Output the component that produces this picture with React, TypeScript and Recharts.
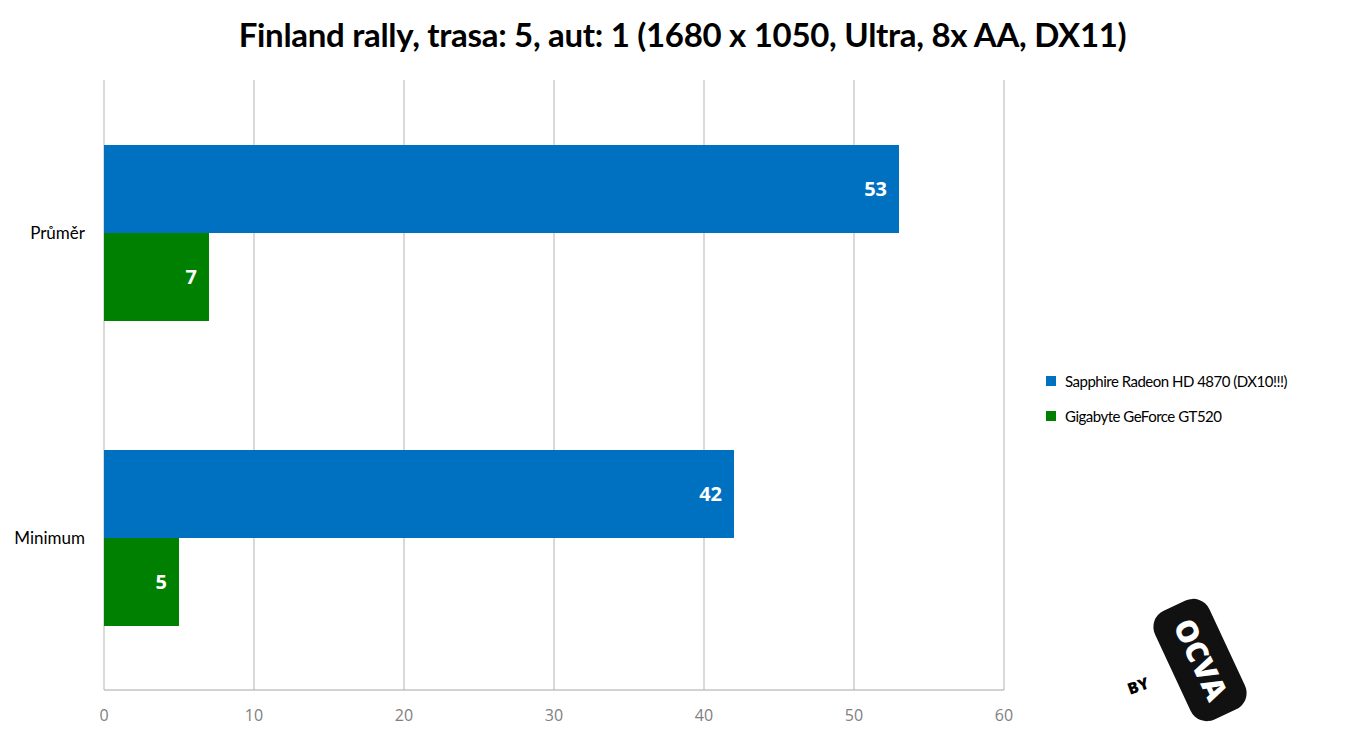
import React from 'react';
import { BarChart, Bar, XAxis, YAxis, CartesianGrid, LabelList } from 'recharts';

const categories = ['Průměr', 'Minimum'];
const radeonValues = [53, 42];
const geforceValues = [7, 5];
const xTicks = [0, 10, 20, 30, 40, 50, 60];
const seriesNames = ['Sapphire Radeon HD 4870 (DX10!!!)', 'Gigabyte GeForce GT520'];
const seriesColors = ['#0070C0', '#008000'];
const title = 'Finland rally, trasa: 5, aut: 1 (1680 x 1050, Ultra, 8x AA, DX11)';

const data = categories.map((c, i) => ({ name: c, radeon: radeonValues[i], geforce: geforceValues[i] }));

const FONT = 'Open Sans, Noto Sans, sans-serif';
const NARROW = 'Lato, Open Sans, sans-serif';

export default function App() {
  return (
    <div style={{ position: 'absolute', left: 0, top: 0, width: 1365, height: 736, background: '#fff', fontFamily: FONT }}>
      <div style={{ position: 'absolute', left: 0, top: 14, width: 1365, textAlign: 'center', fontSize: 33, fontWeight: 700, color: '#000', letterSpacing: -0.3, fontFamily: NARROW }}>
        {title}
      </div>
      <BarChart
        width={1365}
        height={736}
        data={data}
        layout="vertical"
        margin={{ top: 80, right: 361, bottom: 16, left: 0 }}
        barCategoryGap="21.3%"
        barGap={0}
      >
        <CartesianGrid horizontal={false} stroke="#b3b3b3" strokeWidth={1} />
        <XAxis
          type="number"
          domain={[0, 60]}
          ticks={xTicks}
          axisLine={{ stroke: '#a6a6a6' }}
          tickLine={false}
          tick={{ fill: '#808080', fontSize: 16, fontFamily: FONT }}
          tickMargin={14}
          height={30}
        />
        <YAxis
          type="category"
          dataKey="name"
          width={104}
          axisLine={false}
          tickLine={false}
          tick={{ fill: '#000', fontSize: 17, fontFamily: NARROW }}
          tickMargin={13}
        />
        <Bar dataKey="radeon" fill={seriesColors[0]} isAnimationActive={false}>
          <LabelList dataKey="radeon" position="insideRight" offset={12} fill="#fff" fontSize={20} fontWeight={700} fontFamily={FONT} />
        </Bar>
        <Bar dataKey="geforce" fill={seriesColors[1]} isAnimationActive={false}>
          <LabelList dataKey="geforce" position="insideRight" offset={12} fill="#fff" fontSize={20} fontWeight={700} fontFamily={FONT} />
        </Bar>
      </BarChart>
      <div style={{ position: 'absolute', left: 1046, top: 363, fontFamily: NARROW }}>
        {seriesNames.map((n, i) => (
          <div key={n} style={{ display: 'flex', alignItems: 'center', height: 35, fontSize: 15, letterSpacing: -0.5, color: '#000' }}>
            <span style={{ width: 10, height: 10, background: seriesColors[i], marginRight: 9, display: 'inline-block' }} />
            <span>{n}</span>
          </div>
        ))}
      </div>
      <svg style={{ position: 'absolute', left: 1090, top: 590 }} width={200} height={146}>
        <text x={40} y={105} fontSize={16} fontWeight={900} fontFamily={FONT} transform="rotate(-20 40 105)" fill="#000">BY</text>
        <g transform="rotate(65 110 70)">
          <rect x={50} y={40} width={120} height={60} rx={18} fill="#111" />
          <text x={110} y={80} fontSize={30} fontWeight={900} textAnchor="middle" fill="#fff" fontFamily={FONT}>OCVA</text>
        </g>
      </svg>
    </div>
  );
}
